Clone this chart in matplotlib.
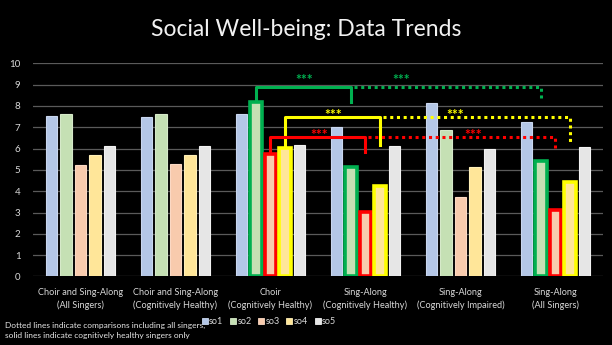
import numpy as np
import matplotlib
matplotlib.use('Agg')
import matplotlib.pyplot as plt
from matplotlib.lines import Line2D

plt.rcParams['font.family'] = ['Lato', 'DejaVu Sans']

# scores per group, one list per social outcome
groups = ['Choir and Sing-Along\n(All Singers)',
          'Choir and Sing-Along\n(Cognitively Healthy)',
          'Choir\n(Cognitively Healthy)',
          'Sing-Along\n(Cognitively Healthy)',
          'Sing-Along\n(Cognitively Impaired)',
          'Sing-Along\n(All Singers)']
series = ['so1', 'so2', 'so3', 'so4', 'so5']
so1 = [7.52, 7.49, 7.60, 7.02, 8.12, 7.23]
so2 = [7.62, 7.63, 8.18, 5.12, 6.85, 5.42]
so3 = [5.21, 5.26, 5.73, 3.01, 3.74, 3.11]
so4 = [5.68, 5.71, 6.02, 4.25, 5.12, 4.42]
so5 = [6.13, 6.13, 6.16, 6.10, 5.98, 6.08]
values = [so1, so2, so3, so4, so5]

fills = ['#b4c7e7', '#c5e0b4', '#f8cbad', '#ffe699', '#e6e6e6']
edges = ['#c9d7ef', '#d6e9c9', '#fbd9c4', '#fff0b8', '#f2f2f2']

# significant comparisons: series, healthy groups (solid), all-singers group (dotted)
comparisons = [
    # series, left grp, mid grp, right grp, level, left leg, mid leg, right leg, colour, stars (x, y)
    (1, 2, 3, 5, 8.90, 8.25, 8.20, 8.27, '#00b050', [(2.36, 9.37), (3.38, 9.37)]),
    (3, 2, 3, 5, 7.47, 6.16, 6.16, 6.16, '#ffff00', [(2.66, 7.73), (3.94, 7.73)]),
    (2, 2, 3, 5, 6.53, 5.79, 5.84, 5.98, '#ff0000', [(2.51, 6.79), (4.13, 6.79)]),
]

step = 0.153
width = 0.121
offsets = (np.arange(len(series)) - 2) * step
x = np.arange(len(groups))

fig = plt.figure(figsize=(6.12, 3.45), dpi=100, facecolor='black')
ax = fig.add_axes([0.054, 0.1986, 0.931, 0.618])
ax.set_facecolor('black')

highlight = {c[0]: c[8] for c in comparisons}
for i, vals in enumerate(values):
    for g, v in enumerate(vals):
        if i in highlight and g in (2, 3, 5):
            ax.bar(x[g] + offsets[i], v, width, color=fills[i],
                   edgecolor=highlight[i], linewidth=2.6, zorder=3)
        else:
            ax.bar(x[g] + offsets[i], v, width, color=fills[i],
                   edgecolor=edges[i], linewidth=0.8, zorder=3)

for s, gl, gm, gr, level, l0, l1, l2, col, stars in comparisons:
    xl = x[gl] + offsets[s]
    xm = x[gm] + offsets[s]
    xr = x[gr] + offsets[s]
    ax.plot([xl, xl, xm, xm], [l0, level, level, l1], color=col, lw=2.2,
            solid_joinstyle='round', zorder=4)
    ax.plot([xm + 0.03, xr, xr], [level, level, l2], color=col, lw=2.2,
            linestyle=(0, (1.0, 1.2)), dash_capstyle='butt', zorder=4)
    for sx, sy in stars:
        ax.annotate('***', (sx, sy), xytext=(0, -5.5), textcoords='offset points',
                    color=col, fontsize=10, fontweight='bold',
                    ha='center', va='baseline', zorder=5)

ax.set_xlim(-0.5, len(groups) - 0.5)
ax.set_ylim(0, 10)
ax.set_yticks(range(0, 11))
ax.yaxis.grid(True, color='#5a5a5a', lw=0.9, zorder=0)
ax.set_axisbelow(True)
ax.set_xticks(x)
ax.set_xticklabels(groups, fontsize=6.6, color='#d9d9d9', linespacing=1.45)
ax.tick_params(axis='x', length=0, pad=8)
ax.tick_params(axis='y', length=0, pad=9, labelsize=7, labelcolor='#d9d9d9')
for sp in ax.spines.values():
    sp.set_visible(False)

handles = [Line2D([], [], marker='s', linestyle='none', markersize=4.2,
                  markerfacecolor=fills[i], markeredgecolor=edges[i],
                  markeredgewidth=0.6) for i in range(len(series))]
fig.legend(handles, series, loc='center', bbox_to_anchor=(0.44, 0.068),
           ncol=5, frameon=False, fontsize=6.5, labelcolor='#d9d9d9',
           handlelength=0.5, handletextpad=0.25, columnspacing=0.8)

fig.text(0.5, 0.915, 'Social Well-being: Data Trends', color='#f2f2f2',
         fontsize=16.5, ha='center', va='center')
fig.text(0.008, 0.042, 'Dotted lines indicate comparisons including all singers,\n'
         'solid lines indicate cognitively healthy singers only',
         color='#e6e6e6', fontsize=6.0, ha='left', va='center', linespacing=1.4)

fig.savefig('out.png', dpi=100, facecolor='black')
